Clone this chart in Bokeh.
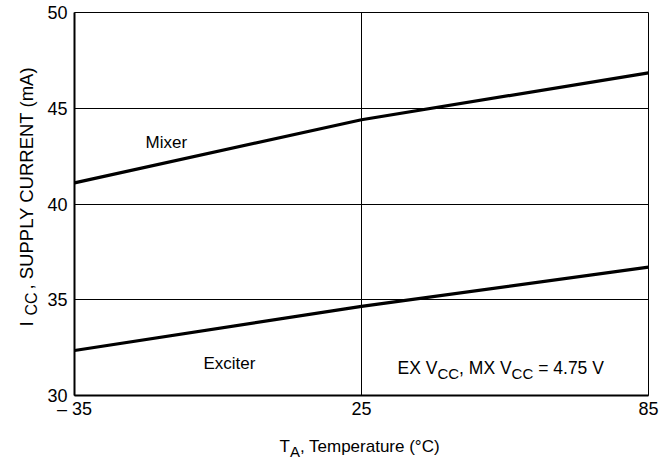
import math
from bokeh.plotting import figure
from bokeh.models import Range1d, FixedTicker, Label
from bokeh.layouts import row, column
from bokeh.embed import file_html
from bokeh.resources import INLINE

# ---- data ----
temps = [-35, 25, 85]
mixer_ma = [41.1, 44.4, 46.85]
exciter_ma = [32.35, 34.65, 36.7]
x_ticks = [-35, 25, 85]
y_ticks = [30, 35, 40, 45, 50]
x_tick_labels = {-35: "\u2013 35", 25: "25", 85: "85"}

X0, X1 = -35, 85
Y0, Y1 = 30, 50

FONT = "Liberation Sans"

# page layout (pixels)
TOTAL_W, TOTAL_H = 660, 460
YLAB_W = 40                # strip holding the rotated y title
MAIN_H = 423               # main chart height; x title strip below it
XLAB_H = TOTAL_H - MAIN_H
MAIN_W = TOTAL_W - YLAB_W

p = figure(width=MAIN_W, height=MAIN_H, output_backend="svg", toolbar_location=None,
           x_range=Range1d(X0, X1), y_range=Range1d(Y0, Y1),
           min_border_left=74 - YLAB_W, min_border_right=12, min_border_top=12,
           min_border_bottom=MAIN_H - 395)
p.background_fill_color = "white"
p.border_fill_color = "white"
p.outline_line_color = "black"
p.outline_line_width = 1

for ax in (p.xaxis[0], p.yaxis[0]):
    ax.axis_line_color = "black"
    ax.axis_line_width = 2
    ax.major_tick_line_color = None
    ax.minor_tick_line_color = None
    ax.major_tick_out = 0
    ax.major_tick_in = 0
    ax.major_label_text_font = FONT
    ax.major_label_text_font_size = "18px"
    ax.major_label_text_color = "black"
    ax.axis_label = None

p.xaxis[0].ticker = FixedTicker(ticks=x_ticks)
p.yaxis[0].ticker = FixedTicker(ticks=y_ticks)
p.xaxis[0].major_label_overrides = x_tick_labels
p.xaxis[0].major_label_standoff = 3
p.yaxis[0].major_label_standoff = 7

p.xgrid[0].ticker = FixedTicker(ticks=x_ticks)
p.ygrid[0].ticker = FixedTicker(ticks=y_ticks)
for g in (p.xgrid[0], p.ygrid[0]):
    g.grid_line_color = "black"
    g.grid_line_width = 1
    g.grid_line_alpha = 1.0

p.line(temps, mixer_ma, line_color="black", line_width=3.2)
p.line(temps, exciter_ma, line_color="black", line_width=3.2)


def lab(fig, ox, oy, text, px, py, size=17, angle=0.0):
    """Place a text at page pixel (px, py) inside figure whose page origin is (ox, oy)."""
    fig.add_layout(Label(x=px - ox, y=py - oy, x_units="canvas", y_units="canvas", text=text,
                         text_font=FONT, text_font_size=f"{size}px", text_color="black",
                         text_align="left", text_baseline="alphabetic", angle=angle))


def blank(w, h):
    f = figure(width=w, height=h, output_backend="svg", toolbar_location=None,
               x_range=Range1d(0, w), y_range=Range1d(0, h),
               x_axis_location=None, y_axis_location=None,
               min_border=0, min_border_left=0, min_border_right=0,
               min_border_top=0, min_border_bottom=0)
    f.grid.visible = False
    f.outline_line_color = None
    f.background_fill_color = "white"
    f.border_fill_color = "white"
    return f


# curve names and note (inside the main chart; origin at page x = YLAB_W)
lab(p, YLAB_W, 0, "Mixer", 145, 142)
lab(p, YLAB_W, 0, "Exciter", 203, 363)
lab(p, YLAB_W, 0, "EX V", 397, 367, 17.5)
lab(p, YLAB_W, 0, "CC", 436.9, 373, 15)
lab(p, YLAB_W, 0, ", MX V", 458.6, 367, 17.5)
lab(p, YLAB_W, 0, "CC", 511.1, 373, 15)
lab(p, YLAB_W, 0, "= 4.75 V", 537.7, 367, 17.5)

# x axis title strip
xl = blank(MAIN_W, XLAB_H)
lab(xl, YLAB_W, MAIN_H, "T", 279, 446)
lab(xl, YLAB_W, MAIN_H, "A", 289.4, 451, 15)
lab(xl, YLAB_W, MAIN_H, ", Temperature (\u00b0C)", 299.4, 446)

# y axis title strip (rotated)
yl = blank(YLAB_W, TOTAL_H)
a = math.pi / 2
lab(yl, 0, 0, "I", 26, 326, 18.5, a)
lab(yl, 0, 0, "CC", 31, 315, 16, a)
lab(yl, 0, 0, ", SUPPLY CURRENT (mA)", 26, 289, 18.5, a)

layout = row(yl, column(p, xl))
open("out.html", "w").write(file_html(layout, INLINE))
